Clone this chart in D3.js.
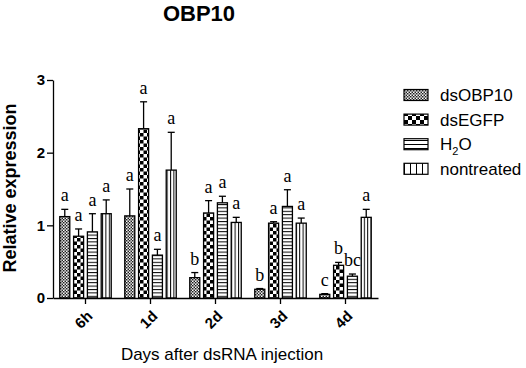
<!DOCTYPE html>
<html>
<head>
<meta charset="utf-8">
<script src="https://cdn.jsdelivr.net/npm/d3@7"></script>
<style>
  body { margin: 0; background: #fff; }
  text { font-family: Arial, "Liberation Sans", sans-serif; }
  text.sig { font-family: "Liberation Serif", "DejaVu Serif", serif; }
</style>
</head>
<body>
<svg id="chart" width="526" height="368"></svg>
<script>
// data
const groups = ["6h", "1d", "2d", "3d", "4d"];
const series = ["dsOBP10", "dsEGFP", "H2O", "nontreated"];
const dsOBP10 = [1.12, 1.13, 0.28, 0.12, 0.05];
const dsOBP10Err = [0.10, 0.37, 0.07, 0.01, 0.01];
const dsEGFP = [0.85, 2.33, 1.17, 1.03, 0.45];
const dsEGFPErr = [0.10, 0.37, 0.17, 0.02, 0.04];
const h2o = [0.91, 0.59, 1.31, 1.26, 0.30];
const h2oErr = [0.25, 0.08, 0.09, 0.23, 0.03];
const nontreated = [1.16, 1.76, 1.04, 1.03, 1.11];
const nontreatedErr = [0.19, 0.52, 0.07, 0.07, 0.11];
const letters = [
  ["a", "a", "b", "b", "c"],
  ["a", "a", "a", "a", "b"],
  ["a", "a", "a", "a", "bc"],
  ["a", "a", "a", "a", "a"],
];
const yTicks = [0, 1, 2, 3];

const seriesValues = [dsOBP10, dsEGFP, h2o, nontreated];
const seriesErrors = [dsOBP10Err, dsEGFPErr, h2oErr, nontreatedErr];

const svg = d3.select("svg#chart");
const defs = svg.append("defs");

// fill patterns
function makePatterns(suffix, sq, hGap, vGap) {
  const p1 = defs.append("pattern").attr("id", "p-obp" + suffix)
    .attr("patternUnits", "userSpaceOnUse").attr("width", 3).attr("height", 3);
  p1.append("rect").attr("width", 3).attr("height", 3).attr("fill", "#fff");
  p1.append("rect").attr("width", 1.5).attr("height", 1.5).attr("fill", "#222");
  p1.append("rect").attr("x", 1.5).attr("y", 1.5).attr("width", 1.5).attr("height", 1.5).attr("fill", "#222");
  p1.append("rect").attr("x", 1.5).attr("y", 0).attr("width", 1).attr("height", 1).attr("fill", "#888");

  const p2 = defs.append("pattern").attr("id", "p-egfp" + suffix)
    .attr("patternUnits", "userSpaceOnUse").attr("width", sq * 2).attr("height", sq * 2);
  p2.append("rect").attr("width", sq * 2).attr("height", sq * 2).attr("fill", "#fff");
  p2.append("rect").attr("width", sq).attr("height", sq).attr("fill", "#000");
  p2.append("rect").attr("x", sq).attr("y", sq).attr("width", sq).attr("height", sq).attr("fill", "#000");

  const p3 = defs.append("pattern").attr("id", "p-h2o" + suffix)
    .attr("patternUnits", "userSpaceOnUse").attr("width", 10).attr("height", hGap);
  p3.append("rect").attr("width", 10).attr("height", hGap).attr("fill", "#fff");
  p3.append("rect").attr("width", 10).attr("height", 1).attr("fill", "#000");

  const p4 = defs.append("pattern").attr("id", "p-non" + suffix)
    .attr("patternUnits", "userSpaceOnUse").attr("width", vGap).attr("height", 10);
  p4.append("rect").attr("width", vGap).attr("height", 10).attr("fill", "#fff");
  p4.append("rect").attr("width", 1).attr("height", 10).attr("fill", "#000");
}
makePatterns("", 3.5, 3.4, 3.4);
makePatterns("-leg", 4, 4, 6);
const patIds = ["p-obp", "p-egfp", "p-h2o", "p-non"];

const x0 = d3.scaleBand().domain(groups).range([53, 378]);
const x1 = d3.scaleBand().domain(series).range([0, x0.bandwidth()])
  .paddingInner(0.275).paddingOuter(0.49);
const y = d3.scaleLinear().domain([0, 3]).range([298, 80]);

// title
svg.append("text")
  .attr("x", 199).attr("y", 21)
  .attr("text-anchor", "middle")
  .attr("font-size", 22).attr("font-weight", "bold")
  .text("OBP10");

// bars
const bars = [];
series.forEach((s, si) => {
  groups.forEach((g, gi) => {
    bars.push({ s, si, g, v: seriesValues[si][gi], e: seriesErrors[si][gi], lab: letters[si][gi] });
  });
});
const cx = (d) => x0(d.g) + x1(d.s) + x1.bandwidth() / 2;

const barG = svg.append("g");
// error bars (behind the bars)
barG.selectAll("line.err").data(bars).join("line")
  .attr("class", "err")
  .attr("x1", cx).attr("x2", cx)
  .attr("y1", (d) => y(d.v))
  .attr("y2", (d) => y(d.v + d.e))
  .attr("stroke", "#000").attr("stroke-width", 1.3);
barG.selectAll("line.cap").data(bars).join("line")
  .attr("class", "cap")
  .attr("x1", (d) => cx(d) - 3.5)
  .attr("x2", (d) => cx(d) + 3.5)
  .attr("y1", (d) => y(d.v + d.e))
  .attr("y2", (d) => y(d.v + d.e))
  .attr("stroke", "#000").attr("stroke-width", 1.3);

barG.selectAll("rect.bar").data(bars).join("rect")
  .attr("class", "bar")
  .attr("x", (d) => x0(d.g) + x1(d.s))
  .attr("y", (d) => y(d.v))
  .attr("width", x1.bandwidth())
  .attr("height", (d) => y(0) - y(d.v))
  .attr("fill", (d) => `url(#${patIds[d.si]})`)
  .attr("stroke", "#000").attr("stroke-width", 1.3);

// significance letters
barG.selectAll("text.sig").data(bars).join("text")
  .attr("class", "sig")
  .attr("x", cx)
  .attr("y", (d) => y(d.v + d.e) - 8)
  .attr("text-anchor", "middle")
  .attr("font-size", 18)
  .text((d) => d.lab);

// y axis
const yAxis = svg.append("g")
  .attr("transform", "translate(53,0)")
  .call(d3.axisLeft(y).tickValues(yTicks).tickFormat(d3.format("d")).tickSize(6).tickSizeOuter(0));
yAxis.select(".domain").attr("stroke-width", 1.3);
yAxis.selectAll(".tick line").attr("stroke-width", 1.3);
yAxis.selectAll(".tick text")
  .attr("font-size", 15).attr("font-weight", "bold")
  .attr("x", -8);

svg.append("text")
  .attr("transform", "translate(16,188) rotate(-90)")
  .attr("text-anchor", "middle")
  .attr("font-size", 18).attr("font-weight", "bold")
  .text("Relative expression");

// x axis
const xAxis = svg.append("g")
  .attr("transform", "translate(0,298)")
  .call(d3.axisBottom(x0).tickSize(6).tickSizeOuter(0));
xAxis.select(".domain").attr("stroke-width", 1.3);
xAxis.selectAll(".tick line").attr("stroke-width", 1.3);
xAxis.selectAll(".tick text")
  .attr("font-size", 15).attr("font-weight", "bold")
  .attr("text-anchor", "end")
  .attr("dy", null)
  .attr("transform", "translate(8,19) rotate(-45)")
  .attr("x", 0).attr("y", 0);

svg.append("text")
  .attr("x", 222).attr("y", 360)
  .attr("text-anchor", "middle")
  .attr("font-size", 17)
  .text("Days after dsRNA injection");

// legend
const legend = svg.append("g").attr("transform", "translate(404,0)");
series.forEach((s, i) => {
  const cy = 95 + i * 24.6;
  legend.append("rect")
    .attr("x", 0).attr("y", cy - 5.5)
    .attr("width", 24).attr("height", 11)
    .attr("fill", `url(#${patIds[i]}-leg)`)
    .attr("stroke", "#000").attr("stroke-width", 1.2);
  const t = legend.append("text")
    .attr("x", 36).attr("y", cy + 6)
    .attr("font-size", 17);
  if (s === "H2O") {
    t.append("tspan").text("H");
    t.append("tspan").attr("font-size", 11).attr("dy", 5).text("2");
    t.append("tspan").attr("dy", -5).text("O");
  } else {
    t.text(s);
  }
});
</script>
</body>
</html>
